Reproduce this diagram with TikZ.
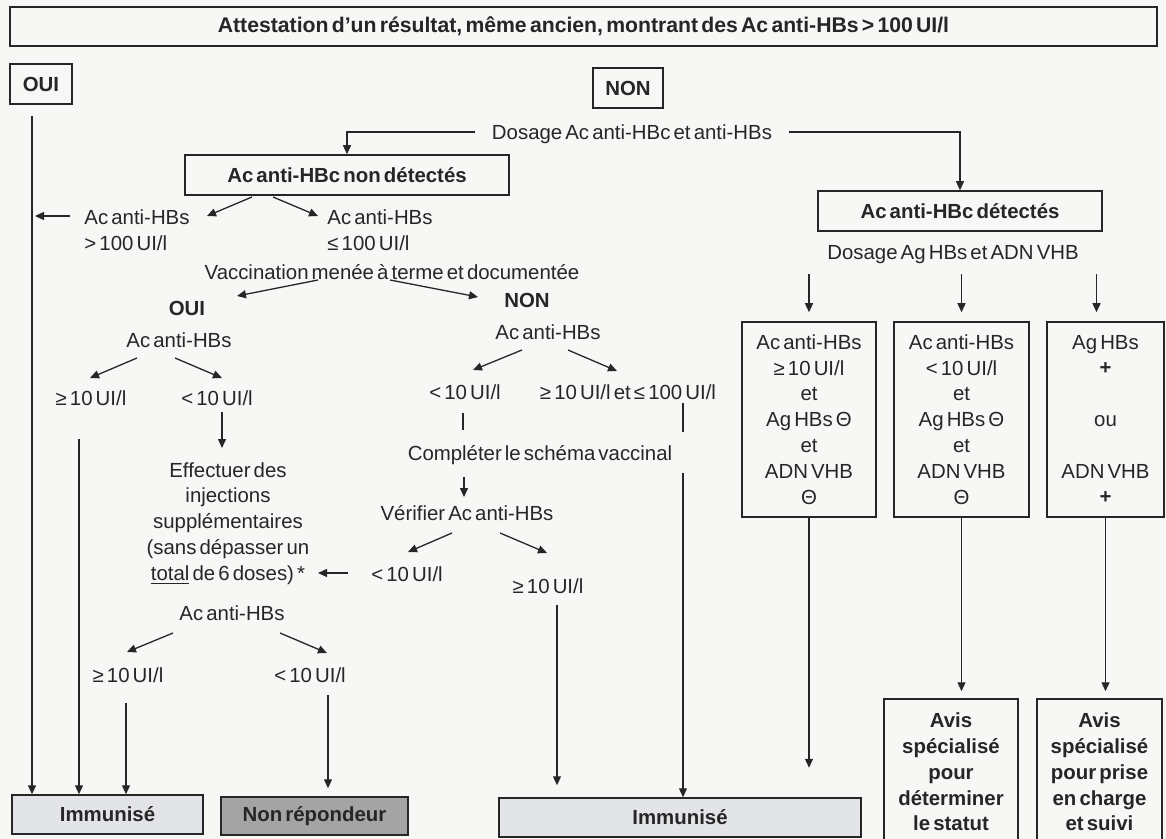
\documentclass[tikz,border=0pt]{standalone}
\usepackage{fontspec}
\setmainfont{Liberation Sans}[WordSpace=0.55]
\usepackage{tikz}
\usetikzlibrary{arrows.meta,calc}

\definecolor{ink}{HTML}{262626}
\definecolor{paper}{HTML}{F7F7F5}
\definecolor{lightfill}{HTML}{E3E4E8}
\definecolor{darkfill}{HTML}{A4A4A4}
\newcommand{\fsz}{\fontsize{10.2}{12.9}\selectfont}

\begin{document}
\begin{tikzpicture}[x=0.5pt, y=-0.5pt, >={Triangle[length=4.5pt,width=4pt]}, font=\fsz,
    box/.style={draw=ink, line width=0.75pt, inner sep=0pt, align=center, text=ink},
    txt/.style={inner sep=0pt, text height=7.4pt, text depth=0pt, text=ink},
    mtxt/.style={inner sep=0pt, align=center, text=ink},
    bold/.style={font=\fsz\bfseries},
    every path/.style={draw=ink, line width=0.65pt}]
    % Conduite a tenir selon le statut anti-HBs / anti-HBc
    \fill [paper, draw=none] (0,0) rectangle (1166,839);
    \path [use as bounding box, draw=none] (0,0) rectangle (1166,839);

    \node (title) at (583.5,26.5) [box, font=\fontsize{10.6}{13}\selectfont\bfseries, minimum width=573.5pt, minimum height=19.5pt] {Attestation d'un résultat, même ancien, montrant des Ac anti-HBs > 100 UI/l};
    \node (ouibox) at (41,84) [box, bold, minimum width=31pt, minimum height=20pt] {OUI};
    \node (nonbox) at (628,88) [box, bold, minimum width=35pt, minimum height=20pt] {NON};
    \node (dos1) at (632,132) [txt, inner xsep=8pt] {Dosage Ac anti-HBc et anti-HBs};
    \node (nondet) at (347,175) [box, bold, minimum width=162pt, minimum height=20pt] {Ac anti-HBc non détectés};
    \node (det) at (960,211) [box, bold, minimum width=142pt, minimum height=20pt] {Ac anti-HBc détectés};
    \node (dos2) at (953,252) [txt] {Dosage Ag HBs et ADN VHB};

    \node (acL) at (137,230.5) [mtxt, align=left] {Ac anti-HBs\\> 100 UI/l};
    \node (acR) at (380,230.5) [mtxt, align=left] {Ac anti-HBs\\≤ 100 UI/l};
    \node (vacc) at (392,272) [txt] {Vaccination menée à terme et documentée};
    \node (ouiT) at (187,308) [txt, bold] {OUI};
    \node (acOui) at (179,340) [txt] {Ac anti-HBs};
    \node (geOui) at (91,398) [txt] {≥ 10 UI/l};
    \node (ltOui) at (217,398) [txt] {< 10 UI/l};
    \node (effect) at (228,523.5) [mtxt] {Effectuer des\\injections\\supplémentaires\\(sans dépasser un\\\underline{total} de 6 doses) *};
    \node (ltV) at (407,574) [txt] {< 10 UI/l};
    \node (acOui2) at (232,613) [txt] {Ac anti-HBs};
    \node (geF) at (128,675) [txt] {≥ 10 UI/l};
    \node (ltF) at (310,675) [txt] {< 10 UI/l};

    \node (nonT) at (527,300) [txt, bold] {NON};
    \node (acNon) at (548,332) [txt] {Ac anti-HBs};
    \node (ltNon) at (465,392) [txt] {< 10 UI/l};
    \node (geNon) at (628,392) [txt] {≥ 10 UI/l et ≤ 100 UI/l};
    \node (compl) at (540,453) [txt] {Compléter le schéma vaccinal};
    \node (verif) at (467,513) [txt] {Vérifier Ac anti-HBs};
    \node (geV) at (548,586) [txt] {≥ 10 UI/l};

    \node (res1) at (809,419.5) [box, minimum width=67pt, minimum height=97.5pt] {Ac anti-HBs\\≥ 10 UI/l\\et\\Ag HBs Θ\\et\\ADN VHB\\Θ};
    \node (res2) at (961.5,419.5) [box, minimum width=67.5pt, minimum height=97.5pt] {Ac anti-HBs\\< 10 UI/l\\et\\Ag HBs Θ\\et\\ADN VHB\\Θ};
    \node (res3) at (1105.5,419.5) [box, minimum width=58.5pt, minimum height=97.5pt] {Ag HBs\\\textbf{+}\\~\\ou\\~\\ADN VHB\\\textbf{+}};
    \node (avis1) at (951,772) [box, bold, minimum width=67pt, minimum height=73pt] {Avis\\spécialisé\\pour\\déterminer\\le statut};
    \node (avis2) at (1099.5,772) [box, bold, minimum width=62.5pt, minimum height=73pt] {Avis\\spécialisé\\pour prise\\en charge\\et suivi};

    \node (immun1) at (107.5,814.5) [box, bold, fill=lightfill, minimum width=95.5pt, minimum height=19.5pt] {Immunisé};
    \node (nonrep) at (314.5,816) [box, bold, fill=darkfill, minimum width=93.5pt, minimum height=19pt] {Non répondeur};
    \node (immun2) at (680,817.5) [box, bold, fill=lightfill, minimum width=181pt, minimum height=19.5pt] {Immunisé};

    \coordinate (ouiL) at ($(ouibox.south)+(-9,11)$);
    \coordinate (geOb) at ($(geOui)+(-12,41)$);
    \coordinate (geFb) at ($(geF)+(-2,28)$);
    \coordinate (ltFb) at ($(ltF)+(18,20)$);
    \coordinate (geVb) at ($(geV)+(9,19)$);
    \coordinate (geNb) at ($(geNon)+(55,81)$);

    \draw [->] (ouiL) -- (ouiL |- immun1.north);
    \draw [->] (dos1.west) -| (nondet.north);
    \draw [->] (dos1.east) -| (det.north);
    \draw [->] ($(nondet)+(-95,22)$) -- ($(acL)+(70,-14.5)$);
    \draw [->] ($(nondet)+(-74,22)$) -- ($(acR)+(-62,-14.5)$);
    \draw [->] ($(acL)+(-67,-14.5)$) -- ($(acL)+(-102,-14.5)$);
    \draw [->] ($(vacc)+(-74,8)$) -- ($(ouiT)+(50,-12)$);
    \draw [->] ($(vacc)+(-2,8)$) -- ($(nonT)+(-49,-3)$);

    \draw [->] ($(acOui)+(-42,18)$) -- ($(geOui)+(-1,-20)$);
    \draw [->] ($(acOui)+(-4,18)$) -- ($(ltOui)+(5,-20)$);
    \draw [->] ($(ltOui)+(5,14)$) -- ($(effect)+(-6,-75.5)$);
    \draw [->] (geOb) -- (geOb |- immun1.north);
    \draw [->] ($(ltV)+(-59,-1)$) -- ($(effect)+(90,49.5)$);
    \draw [->] ($(acOui2)+(-59,20)$) -- ($(geF)+(-1,-23)$);
    \draw [->] ($(acOui2)+(48,20)$) -- ($(ltF)+(17,-22)$);
    \draw [->] (geFb) -- (geFb |- immun1.north);
    \draw [->, shorten >=4pt] (ltFb) -- (ltFb |- nonrep.north);

    \draw [->] ($(acNon)+(-26,18)$) -- ($(ltNon)+(8,-22)$);
    \draw [->] ($(acNon)+(20,18)$) -- ($(geNon)+(-11,-21)$);
    \draw ($(ltNon)+(-2,21)$) -- ($(compl)+(-77,-23)$);
    \draw [->] ($(compl)+(-76,24)$) -- ($(verif)+(-3,-16)$);
    \draw [->] ($(verif)+(-15,20)$) -- ($(ltV)+(1,-22)$);
    \draw [->] ($(verif)+(33,20)$) -- ($(geV)+(-1,-33)$);
    \draw [->, shorten >=6pt] (geVb) -- (geVb |- immun2.north);
    \draw ($(geNon)+(55,11)$) -- ($(geNon)+(55,40)$);
    \draw [->] (geNb) -- (geNb |- immun2.north);

    \draw [->, shorten >=4.5pt] ($(dos2.south -| res1.north)+(0,14)$) -- (res1.north);
    \draw [->, shorten >=4.5pt] ($(dos2.south -| res2.north)+(0,14)$) -- (res2.north);
    \draw [->, shorten >=4.5pt] ($(dos2.south -| res3.north)+(-9,14)$) -- ($(res3.north)+(-9,0)$);
    \draw [->] (res1.south) -- ++(0,250);
    \draw [->, shorten >=3.5pt] (res2.south) -- (res2.south |- avis1.north);
    \draw [->, shorten >=3.5pt] (res3.south) -- (res3.south |- avis2.north);
\end{tikzpicture}
\end{document}
